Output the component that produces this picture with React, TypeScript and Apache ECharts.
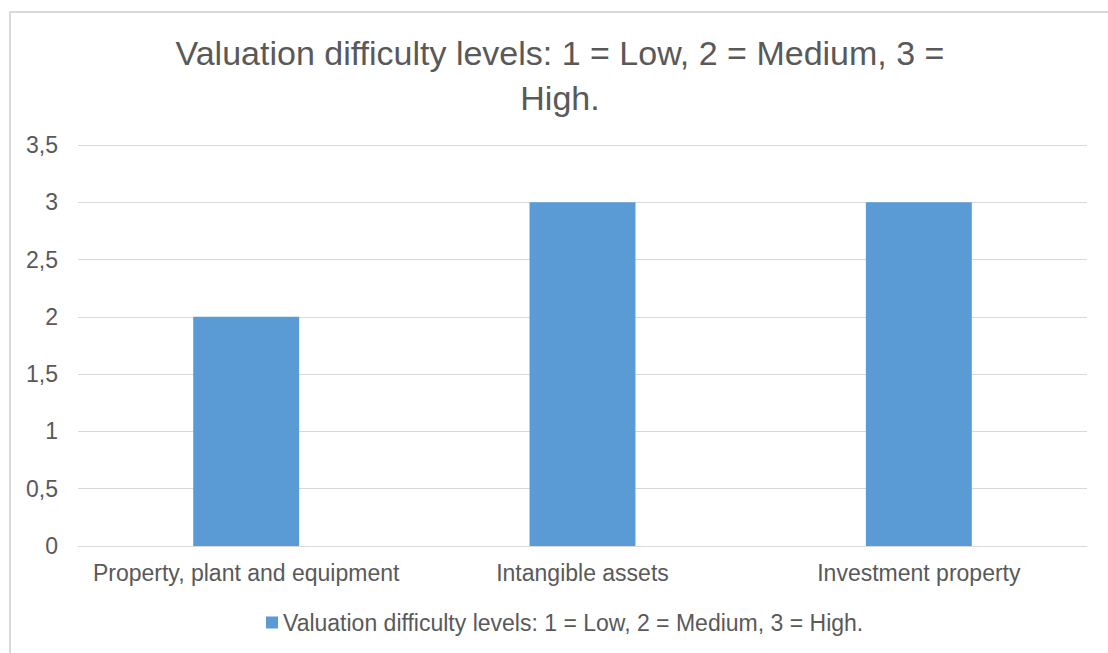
import React, { useEffect, useRef } from "react";
import * as echarts from "echarts";

const categories = ["Property, plant and equipment", "Intangible assets", "Investment property"];
const values = [2, 3, 3];
const seriesName = "Valuation difficulty levels: 1 = Low, 2 = Medium, 3 = High.";
const titleText = "Valuation difficulty levels: 1 = Low, 2 = Medium, 3 =\nHigh.";

export default function App() {
  const ref = useRef<HTMLDivElement>(null);
  useEffect(() => {
    if (!ref.current) return;
    const chart = echarts.init(ref.current, null, { renderer: "svg" });
    const font = "'Liberation Sans', Arial, sans-serif";
    chart.setOption({
      animation: false,
      backgroundColor: "#ffffff",
      textStyle: { fontFamily: font },
      title: {
        text: titleText,
        left: 560,
        top: 30,
        padding: 0,
        textAlign: "center",
        textStyle: {
          fontFamily: font,
          fontSize: 34,
          fontWeight: "normal",
          color: "#595959",
          lineHeight: 45,
        },
      },
      graphic: [
        {
          type: "rect",
          shape: { x: 10, y: 12, width: 1300, height: 1000 },
          style: { fill: "none", stroke: "#d9d9d9", lineWidth: 2 },
          silent: true,
          z: -1,
        },
      ],
      legend: {
        left: 266,
        top: 611,
        padding: 0,
        itemWidth: 12,
        itemHeight: 12,
        icon: "rect",
        textStyle: { fontFamily: font, fontSize: 23, color: "#595959" },
        data: [seriesName],
      },
      grid: { left: 78, right: 21, top: 145, bottom: 107, containLabel: false },
      xAxis: {
        type: "category",
        data: categories,
        axisLine: { show: true, lineStyle: { color: "#d9d9d9", width: 1 } },
        axisTick: { show: false },
        axisLabel: { interval: 0, fontFamily: font, fontSize: 23, color: "#595959", margin: 15 },
      },
      yAxis: {
        type: "value",
        min: 0,
        max: 3.5,
        interval: 0.5,
        axisLine: { show: false },
        axisTick: { show: false },
        splitLine: { lineStyle: { color: "#d9d9d9", width: 1 } },
        axisLabel: {
          fontFamily: font,
          fontSize: 23,
          color: "#595959",
          margin: 20,
          formatter: (v: number) => String(v).replace(".", ","),
        },
      },
      series: [
        {
          name: seriesName,
          type: "bar",
          data: values,
          barWidth: "31.5%",
          itemStyle: { color: "#5b9bd5" },
        },
      ],
    });
    return () => chart.dispose();
  }, []);
  return (
    <div
      ref={ref}
      style={{ position: "fixed", left: 0, top: 0, width: 1108, height: 653 }}
    />
  );
}
